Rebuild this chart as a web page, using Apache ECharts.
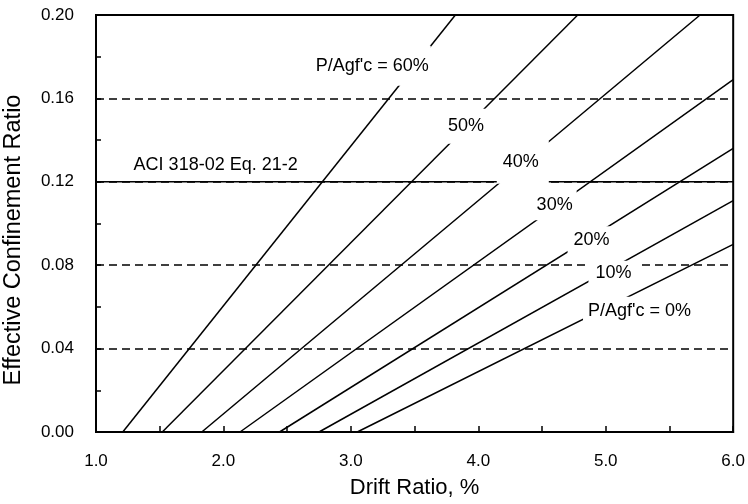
<!DOCTYPE html>
<html><head><meta charset="utf-8">
<script src="https://cdn.jsdelivr.net/npm/echarts@6/dist/echarts.min.js"></script>
<style>html,body{margin:0;padding:0;background:#fff}#c{width:748px;height:504px}</style>
</head><body><div id="c"></div>
<script>
// ---- data ----
const loadLevels = ['60%', '50%', '40%', '30%', '20%', '10%', '0%'];
const startDrift = [1.21, 1.52, 1.83, 2.13, 2.44, 2.75, 3.05];
const startRatio = [0, 0, 0, 0, 0, 0, 0];
const endDrift = [3.82, 4.78, 5.74, 6.0, 6.0, 6.0, 6.0];
const endRatio = [0.20, 0.20, 0.20, 0.169, 0.136, 0.111, 0.090];
const aciDrift = [1.0, 6.0];
const aciRatio = [0.12, 0.12];
const xRange = [1.0, 6.0];
const yRange = [0.0, 0.20];
const labelTexts = ["P/Agf'c = 60%", '50%', '40%', '30%', '20%', '10%', "P/Agf'c = 0%", 'ACI 318-02 Eq. 21-2'];
const labelDrift = [3.160, 3.907, 4.349, 4.595, 4.877, 5.057, 5.261, 1.939];
const labelRatio = [0.1757, 0.1466, 0.1294, 0.1088, 0.0922, 0.0764, 0.0579, 0.1281];
// ---- styles for labels (white box paddings: top, right, bottom, left) ----
const labelPadding = [[5,2,17,4],[4,5,13,4],[6,10,19,6],[3,4,9,5],[6,3,3,6],[4,6,2,7],[10,4,1,5],[0,0,0,0]];
const labelBg = ['#fff','#fff','#fff','#fff','#fff','#fff','#fff','transparent'];

const FONT = '"Liberation Sans", Arial, Helvetica, sans-serif';
const chart = echarts.init(document.getElementById('c'), null, {renderer: 'canvas'});

const series = [];
loadLevels.forEach((lv, i) => {
  series.push({
    name: lv, type: 'line', symbol: 'none', z: 3, animation: false,
    data: [[startDrift[i], startRatio[i]], [endDrift[i], endRatio[i]]],
    lineStyle: {color: '#000', width: 1.5}
  });
});
series.push({
  name: 'ACI', type: 'line', symbol: 'none', z: 3, animation: false,
  data: aciDrift.map((d, i) => [d, aciRatio[i]]),
  lineStyle: {color: '#000', width: 1.5}
});
series.push({
  name: 'labels', type: 'scatter', symbolSize: 0, z: 20, animation: false, silent: true,
  itemStyle: {opacity: 1, color: '#fff'},
  data: labelTexts.map((t, i) => ({
    value: [labelDrift[i], labelRatio[i]],
    label: {padding: labelPadding[i], backgroundColor: labelBg[i]}
  })),
  label: {
    show: true, position: 'inside', opacity: 1,
    formatter: p => labelTexts[p.dataIndex],
    color: '#000', fontSize: 18, fontFamily: FONT
  }
});

chart.setOption({
  animation: false,
  backgroundColor: '#fff',
  grid: {left: 96, right: 12, top: 15, bottom: 72, show: true, borderColor: '#000', borderWidth: 2, backgroundColor: 'transparent'},
  xAxis: {
    type: 'value', min: xRange[0], max: xRange[1], interval: 1,
    name: 'Drift Ratio, %', nameLocation: 'middle', nameGap: 45,
    nameTextStyle: {fontSize: 22, fontFamily: FONT, color: '#000'},
    axisLine: {show: true, lineStyle: {color: '#000', width: 2}},
    axisTick: {show: true, inside: true, length: 6, lineStyle: {color: '#000', width: 1.5}},
    minorTick: {show: true, splitNumber: 2, length: 6, lineStyle: {color: '#000', width: 1.5}},
    axisLabel: {fontSize: 17, fontFamily: FONT, color: '#000', margin: 21, formatter: v => v.toFixed(1)},
    splitLine: {show: false}
  },
  yAxis: {
    type: 'value', min: yRange[0], max: yRange[1], interval: 0.04,
    axisLine: {show: true, lineStyle: {color: '#000', width: 2}},
    axisTick: {show: true, inside: true, length: 5, lineStyle: {color: '#000', width: 1.5}},
    minorTick: {show: true, splitNumber: 2, length: 5, lineStyle: {color: '#000', width: 1.5}},
    axisLabel: {fontSize: 17, fontFamily: FONT, color: '#000', margin: 22, formatter: v => v.toFixed(2)},
    splitLine: {show: true, lineStyle: {color: '#000', width: 1.5, type: [8, 5]}}
  },
  graphic: [{
    type: 'text', x: 14, y: 240, rotation: Math.PI / 2, silent: true,
    style: {text: 'Effective Confinement Ratio', fontSize: 23.5, fontFamily: FONT, fill: '#000', align: 'center', verticalAlign: 'middle'}
  }],
  series: series
});
</script>
</body></html>
